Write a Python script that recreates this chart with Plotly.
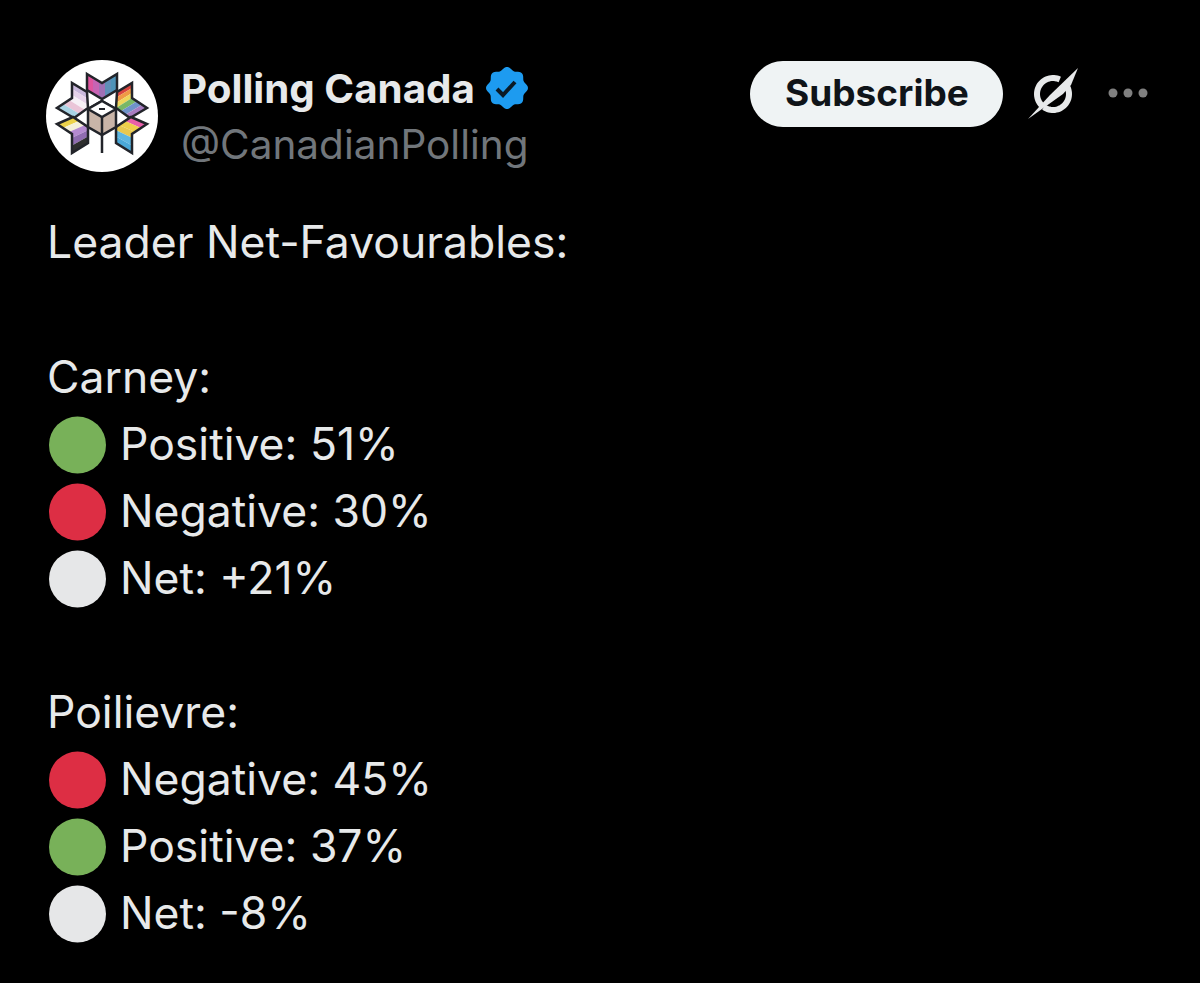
import math
import plotly.graph_objects as go

# page is laid out in picture pixels
W = 1200
H = 983

BG = '#000000'
TEXT = '#e7e9ea'
GREEN = '#78b159'
RED = '#dd2e44'
GREY = '#e6e7e8'
OUTLINE = '#22242a'
FONT = 'Inter, Roboto, sans-serif'

name_text = 'Polling Canada'
handle_text = '@CanadianPolling'
heading_text = 'Leader Net-Favourables:'
button_text = 'Subscribe'

leaders = ['Carney:', 'Poilievre:']
carney_labels = ['Positive: 51%', 'Negative: 30%', 'Net: +21%']
carney_colors = [GREEN, RED, GREY]
poilievre_labels = ['Negative: 45%', 'Positive: 37%', 'Net: -8%']
poilievre_colors = [RED, GREEN, GREY]

line_y_carney = [445, 512, 579]
line_y_poilievre = [780, 847, 914]
BODY_SIZE = 44.5
TEXT_DROP = 4

# stripe colours of the six logo wings
top_wing = ['#e0559f', '#c764b4', '#a070b5', '#5f8fb8', '#4f93b8']
upper_left_wing = ['#c9b8dc', '#e6d3ea', '#f6f0f6', '#eac5d8', '#a9d3e4']
upper_right_wing = ['#d9453f', '#ef9a45', '#efd75a', '#79b765', '#6f93c9', '#a77cc0']
lower_left_wing = ['#ecd24a', '#f4f0d8', '#b48ad0', '#8f6cb0', '#2e2e2e']
lower_right_wing = ['#e85fa8', '#eecf4a', '#e8c84f', '#5db6e0', '#4aa8d8']


def path_of(points, close=True):
    return 'M' + ' L'.join('%.2f,%.2f' % p for p in points) + (' Z' if close else '')


def lerp(a, b, t):
    return (a[0] + (b[0] - a[0]) * t, a[1] + (b[1] - a[1]) * t)


def wing(outer, inner, colors):
    # outer and inner are 3 point chains, stripes run along them
    out = []
    n = len(colors)
    for i, c in enumerate(colors):
        t0 = 2.0 * i / n
        t1 = 2.0 * (i + 1) / n

        def at(chain, t):
            if t <= 1:
                return lerp(chain[0], chain[1], t)
            return lerp(chain[1], chain[2], t - 1)

        pts = [at(outer, t0)]
        if t0 < 1 < t1:
            pts.append(outer[1])
        pts.append(at(outer, t1))
        pts.append(at(inner, t1))
        if t0 < 1 < t1:
            pts.append(inner[1])
        pts.append(at(inner, t0))
        out.append(dict(type='path', path=path_of(pts), fillcolor=c, line_width=0, layer='above'))
    edge = list(outer) + list(inner)[::-1]
    out.append(dict(type='path', path=path_of(edge), fillcolor='rgba(0,0,0,0)',
                    line=dict(color=OUTLINE, width=2.5), layer='above'))
    return out


def arc(cx, cy, r, a0, a1, steps=30):
    return [(cx + r * math.cos(math.radians(a0 + (a1 - a0) * i / steps)),
             cy + r * math.sin(math.radians(a0 + (a1 - a0) * i / steps))) for i in range(steps + 1)]


def text_trace(x, y, s, size, color, weight=400):
    return go.Scatter(x=[x], y=[y], mode='text', text=[s], textposition='middle right',
                      textfont=dict(family=FONT, size=size, color=color, weight=weight),
                      hoverinfo='skip')


fig = go.Figure()

fig.add_trace(go.Scatter(x=[77.5] * 3, y=line_y_carney, mode='markers',
                         marker=dict(size=57, color=carney_colors), hoverinfo='skip'))
fig.add_trace(go.Scatter(x=[77.5] * 3, y=line_y_poilievre, mode='markers',
                         marker=dict(size=57, color=poilievre_colors), hoverinfo='skip'))
fig.add_trace(go.Scatter(x=[120] * 3, y=[v + TEXT_DROP for v in line_y_carney], mode='text',
                         text=carney_labels, textposition='middle right',
                         textfont=dict(family=FONT, size=BODY_SIZE, color=TEXT), hoverinfo='skip'))
fig.add_trace(go.Scatter(x=[120] * 3, y=[v + TEXT_DROP for v in line_y_poilievre], mode='text',
                         text=poilievre_labels, textposition='middle right',
                         textfont=dict(family=FONT, size=BODY_SIZE, color=TEXT), hoverinfo='skip'))

fig.add_trace(text_trace(47, 243 + TEXT_DROP, heading_text, BODY_SIZE, TEXT))
fig.add_trace(text_trace(47, 378 + TEXT_DROP, leaders[0], BODY_SIZE, TEXT))
fig.add_trace(text_trace(47, 713 + TEXT_DROP, leaders[1], BODY_SIZE, TEXT))
fig.add_trace(text_trace(181, 93, name_text, 40.3, TEXT, 700))
fig.add_trace(text_trace(181, 149, handle_text, 40.5, '#71767b'))
fig.add_trace(text_trace(785, 97, button_text, 37, '#0f1419', 700))
fig.add_trace(go.Scatter(x=[1113, 1128, 1143], y=[93, 93, 93], mode='markers',
                         marker=dict(size=9, color='#808080'), hoverinfo='skip'))

shapes = [
    dict(type='circle', x0=46, y0=60, x1=158, y1=172, fillcolor='#ffffff', line_width=0, layer='below'),
    # subscribe pill
    dict(type='path', layer='below', fillcolor='#eff3f4', line_width=0,
         path='M783,61 L970,61 C988,61 1003,76 1003,94 C1003,112 988,127 970,127 '
              'L783,127 C765,127 750,112 750,94 C750,76 765,61 783,61 Z'),
]

# verified badge, scalloped edge
badge = [(507 + (19.5 + 1.5 * math.cos(math.radians(8 * a))) * math.cos(math.radians(a)),
          88 + (19.5 + 1.5 * math.cos(math.radians(8 * a))) * math.sin(math.radians(a)))
         for a in range(0, 360, 4)]
shapes.append(dict(type='path', path=path_of(badge), fillcolor='#1d9bf0', line_width=0, layer='above'))
shapes.append(dict(type='path', path=path_of([(497, 89), (503, 95), (515, 82)], close=False),
                   fillcolor='rgba(0,0,0,0)', line=dict(color='#0b1a26', width=4), layer='above'))

# slashed ring icon
for a0, a1 in [(-65, -225), (125, -30)]:
    shapes.append(dict(type='path', path=path_of(arc(1053, 94, 16, a0, a1), close=False),
                       fillcolor='rgba(0,0,0,0)', line=dict(color='#e7e9ea', width=6), layer='above'))
shapes.append(dict(type='path', layer='above', fillcolor='#e7e9ea', line_width=0,
                   path=path_of([(1078, 68), (1071, 85), (1063, 94), (1028, 119), (1050, 95)])))

# logo: ballot box with six striped wings
shapes += wing([(87, 74), (102, 83), (117, 74)], [(87, 90), (102, 99), (117, 90)], top_wing)
shapes += wing([(72, 83), (72, 98), (57, 108)], [(87, 92), (88, 108), (74, 118)], upper_left_wing)
shapes += wing([(132, 83), (132, 98), (147, 108)], [(117, 92), (116, 108), (130, 118)], upper_right_wing)
shapes += wing([(57, 124), (72, 134), (72, 153)], [(73, 117), (88, 127), (88, 143)], lower_left_wing)
shapes += wing([(147, 124), (132, 134), (132, 153)], [(131, 117), (116, 127), (116, 143)], lower_right_wing)
shapes += [
    dict(type='path', path=path_of([(102, 101), (116, 109), (116, 127), (102, 135), (88, 127), (88, 109)]),
         fillcolor='#c9b5a8', line=dict(color=OUTLINE, width=2.5), layer='above'),
    dict(type='path', path=path_of([(102, 101), (116, 109), (102, 117), (88, 109)]),
         fillcolor='#ffffff', line=dict(color=OUTLINE, width=2.5), layer='above'),
    dict(type='line', x0=99, y0=109, x1=105, y1=109, line=dict(color=OUTLINE, width=2), layer='above'),
    dict(type='line', x0=102, y0=117, x1=102, y1=153, line=dict(color=OUTLINE, width=2.5), layer='above'),
]

fig.update_layout(
    width=W, height=H, margin=dict(l=0, r=0, t=0, b=0),
    paper_bgcolor=BG, plot_bgcolor=BG, showlegend=False, shapes=shapes,
    xaxis=dict(range=[0, W], visible=False, fixedrange=True),
    yaxis=dict(range=[H, 0], visible=False, fixedrange=True),
)

fig.write_html('out.html', config={'displayModeBar': False},
               post_script="document.body.style.margin='0';document.body.style.background='#000';")
